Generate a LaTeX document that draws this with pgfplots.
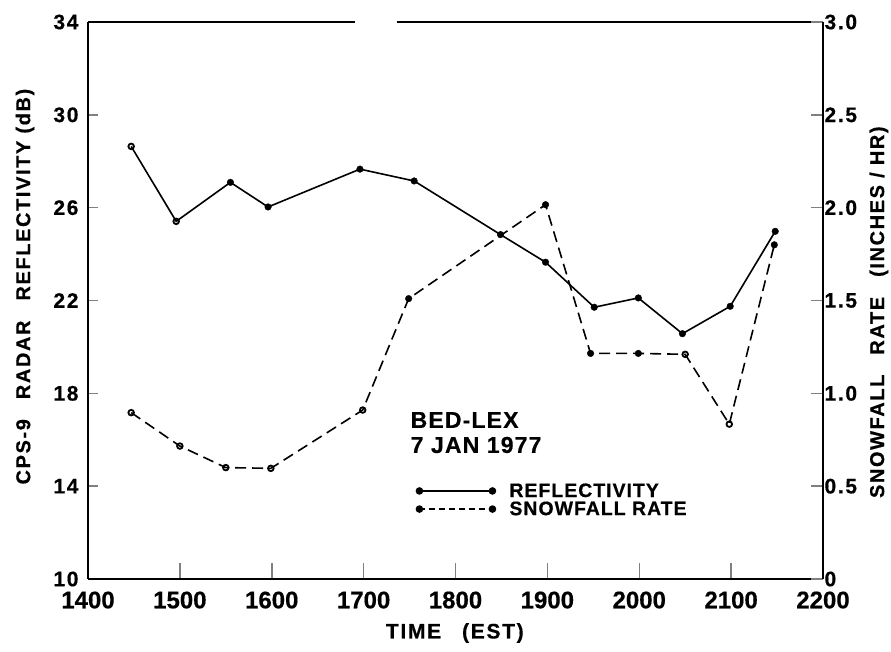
\documentclass[border=0pt]{standalone}
\usepackage{fontspec}
\usepackage{pgfplots}
\pgfplotsset{compat=1.18}
\newfontfamily\lf{Liberation Sans Bold}[LetterSpace=8, FakeBold=0.5]
\newfontfamily\lfl{Liberation Sans Bold}[LetterSpace=5, FakeBold=0.5]
\newfontfamily\lfn{Liberation Sans Bold}[FakeBold=0.5]
\newcommand{\fs}[1]{\fontsize{#1}{#1}\selectfont}

\begin{document}
\begin{tikzpicture}
\useasboundingbox (0,0) rectangle (891pt,651pt);
\begin{axis}[
  at={(88pt,72pt)}, anchor=south west,
  scale only axis, width=735pt, height=557pt,
  xmin=1400, xmax=2200, ymin=10, ymax=34,
  axis x line*=bottom, axis y line*=left,
  axis line style={line width=1.8pt, -},
  xtick={1400,1500,...,2200},
  xticklabels={1400,1500,1600,1700,1800,1900,2000,2100,2200},
  ytick={10,14,...,34},
  yticklabels={10,14,18,22,26,30,34},
  tick align=inside,
  xtick style={line width=1.5pt, /pgfplots/major tick length=16pt},
  ytick style={line width=1.5pt, /pgfplots/major tick length=10pt},
  x tick label style={font=\lfn\fs{24}, yshift=-9pt},
  y tick label style={font=\lf\fs{21}, xshift=-6pt},
  xlabel={TIME\quad(EST)},
  xlabel style={font=\lf\fs{21}, at={(axis description cs:0.499,-0.097)}, anchor=center},
  ylabel={CPS-9\quad RADAR\quad REFLECTIVITY (dB)},
  ylabel style={font=\lf\fs{20}, at={(axis description cs:-0.0857,0.525)}, anchor=center},
  clip=false,
  legend cell align=left,
  legend style={draw=none, fill=none, at={(axis description cs:0.4425,0.1418)}, anchor=west,
    font=\lfl\fs{19.5}, row sep=3pt, column sep=14pt, nodes={inner sep=0pt}},
  legend image code/.code={\draw[#1] plot coordinates {(0pt,0pt) (73pt,0pt)};},
]
\addlegendimage{line width=1.5pt, mark=*, mark size=3pt, mark options={solid}}
\addlegendentry{REFLECTIVITY}
\addlegendimage{line width=1.5pt, dash pattern=on 6pt off 4pt, mark=*, mark size=3pt, mark options={solid}}
\addlegendentry{SNOWFALL RATE}

\draw[line width=1.8pt] (axis cs:1400,34) -- (axis cs:1691,34);
\draw[line width=1.8pt] (axis cs:1736,34) -- (axis cs:2200,34);

% reflectivity line
\addplot[forget plot, line width=1.6pt, black, no marks] table {
x y
1447 28.64
1496 25.41
1555 27.09
1596 26.03
1696 27.66
1755 27.15
1849 24.84
1898 23.65
1951 21.71
1999 22.11
2047 20.57
2099 21.75
2148 24.98
};
% filled marks
\addplot[forget plot, only marks, mark=*, mark size=3.3pt, black] table {
x y
1555 27.09
1596 26.03
1696 27.66
1755 27.15
1849 24.84
1898 23.65
1951 21.71
1999 22.11
2047 20.57
2099 21.75
2148 24.98
};
% ring marks
\addplot[forget plot, only marks, mark=o, mark size=2.8pt, line width=1.8pt, black] table {
x y
1447 28.64
1496 25.41
};

\node[anchor=north west, inner sep=0pt, align=left, font={\lfl\fontsize{23}{25}\selectfont}] at (axis cs:1751,17.2) {BED-LEX\\7 JAN 1977};
\end{axis}

\begin{axis}[
  at={(88pt,72pt)}, anchor=south west,
  scale only axis, width=735pt, height=557pt,
  xmin=1400, xmax=2200, ymin=0, ymax=3,
  axis x line=none, axis y line*=right,
  axis line style={line width=1.8pt, -},
  ytick={0,0.5,1,1.5,2,2.5,3},
  yticklabels={0,0.5,1.0,1.5,2.0,2.5,3.0},
  tick align=inside,
  ytick style={line width=1.5pt, /pgfplots/major tick length=12pt},
  y tick label style={font=\lf\fs{21}, xshift=-2pt},
  ylabel={SNOWFALL\quad RATE\quad (INCHES / HR)},
  ylabel style={font=\lf\fs{20}, at={(axis description cs:1.076,0.479)}, anchor=center},
  clip=false,
]
\addplot[line width=1.6pt, black, dash pattern=on 11pt off 6pt, no marks] table {
x y
1447 0.896
1500 0.716
1550 0.600
1599 0.596
1699 0.910
1749 1.510
1898 2.016
1947 1.215
1999 1.215
2050 1.210
2098 0.834
2147 1.800
};
\addplot[only marks, mark=*, mark size=3.3pt, black] table {
x y
1749 1.510
1898 2.016
1947 1.215
1999 1.215
2147 1.800
};
\addplot[only marks, mark=o, mark size=2.8pt, line width=1.8pt, black] table {
x y
1447 0.896
1500 0.716
1550 0.600
1599 0.596
1699 0.910
2050 1.210
2098 0.834
};
\end{axis}
\end{tikzpicture}
\end{document}
